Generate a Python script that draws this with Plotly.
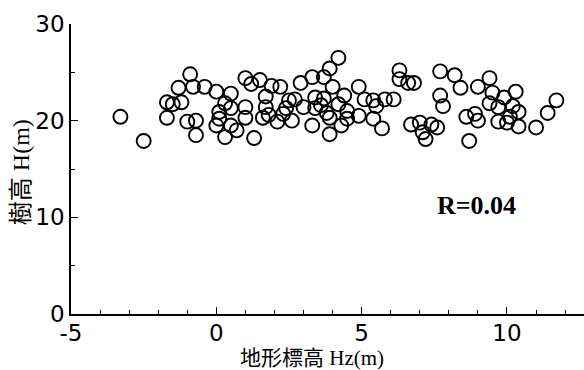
import plotly.graph_objects as go

# Terrain elevation Hz (m)
hz = [-3.3, -2.5, -1.7, -1.5, -1.2, -1.7, -1.0, -0.7, -0.7, -1.3,
      -0.8, -0.9, -0.4, 0.0, 0.5, 0.1, 0.3, 0.5, 0.1, 0.0,
      0.5, 0.7, 0.3, 1.0, 1.5, 1.2, 1.7, 1.0, 1.0, 1.7,
      1.6, 1.8, 1.3, 1.9, 2.2, 2.5, 2.7, 2.4, 2.3, 2.1,
      2.6, 2.9, 3.3, 3.7, 3.9, 4.2, 4.0, 3.4, 3.7, 3.0,
      3.4, 3.6, 3.8, 3.9, 3.3, 3.9, 4.2, 4.4, 4.5, 4.5,
      4.3, 4.9, 4.9, 5.1, 5.4, 5.5, 5.8, 6.1, 5.4, 5.7,
      6.3, 6.3, 6.6, 6.8, 6.7, 7.0, 7.1, 7.2, 7.4, 7.6,
      7.7, 8.2, 8.4, 7.7, 7.8, 8.6, 8.9, 9.0, 8.7, 9.0,
      9.4, 9.5, 9.4, 9.7, 9.9, 10.3, 10.2, 10.4, 9.7, 10.0,
      10.4, 10.1, 11.0, 11.4, 11.7]

# Tree height H (m)
h = [20.4, 17.9, 21.9, 21.7, 21.9, 20.3, 19.9, 20.0, 18.5, 23.4,
     23.5, 24.8, 23.5, 23.0, 22.8, 20.9, 21.8, 21.3, 20.2, 19.5,
     19.5, 19.0, 18.3, 24.4, 24.2, 23.8, 22.5, 21.4, 20.3, 21.4,
     20.3, 20.6, 18.2, 23.6, 23.5, 22.1, 22.2, 21.3, 20.7, 19.9,
     20.0, 23.9, 24.5, 24.5, 25.4, 26.5, 23.5, 22.4, 22.3, 21.4,
     21.3, 21.6, 20.8, 20.3, 19.5, 18.6, 21.7, 22.6, 21.0, 20.2,
     19.5, 23.5, 20.5, 22.2, 22.1, 21.5, 22.2, 22.2, 20.2, 19.2,
     25.2, 24.3, 23.9, 23.9, 19.6, 19.8, 18.8, 18.1, 19.6, 19.3,
     25.1, 24.7, 23.4, 22.6, 21.5, 20.4, 20.7, 20.0, 17.9, 23.5,
     24.4, 22.9, 21.8, 21.4, 22.4, 23.0, 21.5, 20.9, 19.9, 19.8,
     19.4, 20.4, 19.3, 20.8, 22.1]

x_ticks = [-5, 0, 5, 10]
y_ticks = [0, 10, 20, 30]
x_title = "地形標高 Hz(m)"
y_title = "樹高 H(m)"
r_text = "R=0.04"

label_font = "Liberation Serif, Noto Sans CJK JP, serif"
tick_font = dict(family="DejaVu Sans, sans-serif", size=23, color="black")

fig = go.Figure()
fig.add_trace(go.Scatter(
    x=hz, y=h, mode="markers",
    marker=dict(symbol="circle-open", size=14, color="black",
                line=dict(width=1.9, color="black")),
    showlegend=False,
))

fig.update_layout(
    width=584, height=370,
    margin=dict(l=71, r=0, t=24, b=56),
    paper_bgcolor="white", plot_bgcolor="white",
    xaxis=dict(
        range=[-5, 12.65], tickvals=x_ticks, ticktext=[str(v) for v in x_ticks],
        showgrid=False, zeroline=False, showline=True, linecolor="black", linewidth=1.5,
        ticks="inside", ticklen=7, tickwidth=1.3, tickcolor="black",
        tickfont=tick_font, ticklabelstandoff=-2,
        minor=dict(dtick=1, tick0=0, ticks="inside", ticklen=4, tickwidth=1.1, tickcolor="black"),
    ),
    yaxis=dict(
        range=[0, 30], tickvals=y_ticks, ticktext=[str(v) for v in y_ticks],
        showgrid=False, zeroline=False, showline=True, linecolor="black", linewidth=1.5,
        ticks="inside", ticklen=7, tickwidth=1.3, tickcolor="black",
        tickfont=tick_font, ticklabelstandoff=0,
        minor=dict(dtick=5, tick0=0, ticks="inside", ticklen=4, tickwidth=1.1, tickcolor="black"),
    ),
    annotations=[
        dict(text=x_title, xref="paper", yref="paper", x=0.47, y=-0.153,
             xanchor="center", yanchor="middle", showarrow=False,
             font=dict(family=label_font, size=21, color="black")),
        dict(text=y_title, xref="paper", yref="paper", x=-0.097, y=0.49,
             xanchor="center", yanchor="middle", showarrow=False, textangle=-90,
             font=dict(family=label_font, size=24, color="black")),
        dict(text="<b>" + r_text + "</b>", xref="paper", yref="paper", x=0.79, y=0.375,
             xanchor="center", yanchor="middle", showarrow=False,
             font=dict(family="Liberation Serif, serif", size=26, color="black")),
    ],
)

fig.write_html("out.html")
